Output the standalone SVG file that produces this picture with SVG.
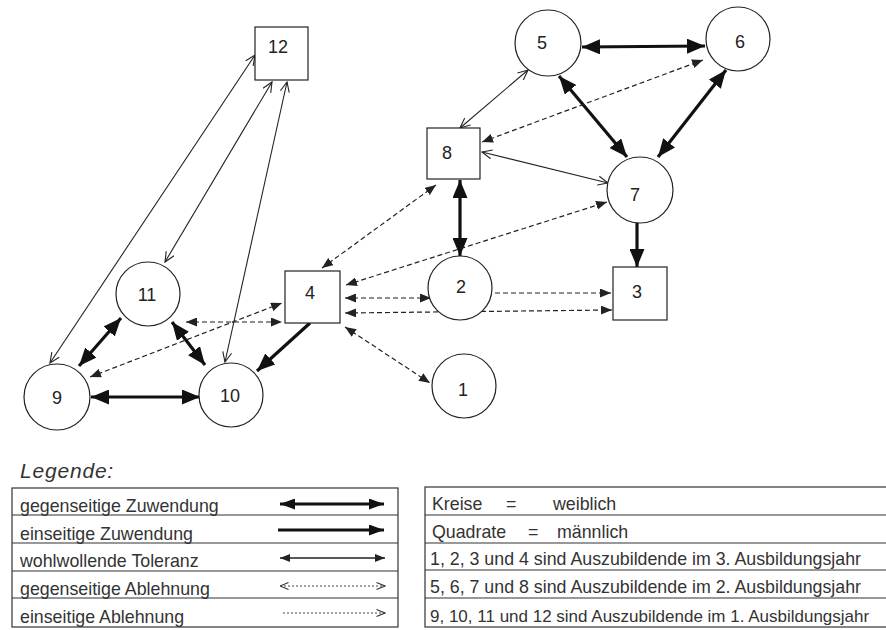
<svg xmlns="http://www.w3.org/2000/svg" width="886" height="630" viewBox="0 0 886 630">
<style>
  .node circle, .node rect { fill: #fff; stroke: #222; stroke-width: 1.2; }
  .lbl { font-family: "Liberation Sans", Arial, sans-serif; font-size: 18px; fill: #222; text-anchor: middle; dominant-baseline: central; }
  .thick { stroke: #111; stroke-width: 3.2; fill: none; }
  .thin { stroke: #222; stroke-width: 1.1; fill: none; }
  .dash { stroke: #222; stroke-width: 1.2; fill: none; stroke-dasharray: 5 3; }
  .ldot { stroke: #444; stroke-width: 1; fill: none; stroke-dasharray: 2 2; }
  .lthin { stroke: #222; stroke-width: 1.6; fill: none; }
  .txt { font-family: "Liberation Sans", Arial, sans-serif; font-size: 17.8px; fill: #333; }
  .title { font-family: "Liberation Sans", Arial, sans-serif; font-size: 21px; font-style: italic; letter-spacing: 0.8px; fill: #333; }
  .small { font-size: 17px; }
  .tbl { fill: none; stroke: #333; stroke-width: 1.2; }
</style>
<defs>
  <marker id="mThick" markerUnits="userSpaceOnUse" viewBox="0 0 18 15" refX="18" refY="7.5" markerWidth="18" markerHeight="15" orient="auto-start-reverse">
    <path d="M0,0 L18,7.5 L0,15 z" fill="#111"/>
  </marker>
  <marker id="mOpen" markerUnits="userSpaceOnUse" viewBox="0 0 12 10" refX="11" refY="5" markerWidth="12" markerHeight="10" orient="auto-start-reverse">
    <path d="M1,0.5 L11,5 L1,9.5" fill="none" stroke="#222" stroke-width="1.1"/>
  </marker>
  <marker id="mDash" markerUnits="userSpaceOnUse" viewBox="0 0 11 9" refX="11" refY="4.5" markerWidth="11" markerHeight="9" orient="auto-start-reverse">
    <path d="M0,0 L11,4.5 L0,9 z" fill="#222"/>
  </marker>
  <marker id="mLThick" markerUnits="userSpaceOnUse" viewBox="0 0 15 11" refX="15" refY="5.5" markerWidth="15" markerHeight="11" orient="auto-start-reverse">
    <path d="M0,0 L15,5.5 L0,11 z" fill="#111"/>
  </marker>
  <marker id="mLThin" markerUnits="userSpaceOnUse" viewBox="0 0 10 8" refX="10" refY="4" markerWidth="10" markerHeight="8" orient="auto-start-reverse">
    <path d="M0,0 L10,4 L0,8 z" fill="#222"/>
  </marker>
  <marker id="mLOpen" markerUnits="userSpaceOnUse" viewBox="0 0 10 8" refX="9.5" refY="4" markerWidth="10" markerHeight="8" orient="auto-start-reverse">
    <path d="M1,0.5 L9.5,4 L1,7.5" fill="none" stroke="#333" stroke-width="1.1"/>
  </marker>
</defs>
<rect width="886" height="630" fill="#fff"/>

<g id="connectors">
  <!-- thick mutual -->
  <line class="thick" x1="79" y1="366" x2="121" y2="318" marker-start="url(#mThick)" marker-end="url(#mThick)"/>
  <line class="thick" x1="172" y1="322" x2="205" y2="365" marker-start="url(#mThick)" marker-end="url(#mThick)"/>
  <line class="thick" x1="91" y1="397" x2="200" y2="397" marker-start="url(#mThick)" marker-end="url(#mThick)"/>
  <line class="thick" x1="460" y1="180" x2="460" y2="256" marker-start="url(#mThick)" marker-end="url(#mThick)"/>
  <line class="thick" x1="582" y1="47" x2="705" y2="46" marker-start="url(#mThick)" marker-end="url(#mThick)"/>
  <line class="thick" x1="559" y1="76" x2="627" y2="157" marker-start="url(#mThick)" marker-end="url(#mThick)"/>
  <line class="thick" x1="726" y1="70" x2="658" y2="157" marker-start="url(#mThick)" marker-end="url(#mThick)"/>
  <!-- thick one-way -->
  <line class="thick" x1="310" y1="323" x2="257" y2="371" marker-end="url(#mThick)"/>
  <line class="thick" x1="637" y1="222" x2="637" y2="267" marker-end="url(#mThick)"/>
  <!-- thin tolerance -->
  <line class="thin" x1="50" y1="363" x2="255" y2="55" marker-start="url(#mOpen)" marker-end="url(#mOpen)"/>
  <line class="thin" x1="165" y1="262" x2="272" y2="82" marker-start="url(#mOpen)" marker-end="url(#mOpen)"/>
  <line class="thin" x1="225" y1="362" x2="287" y2="82" marker-start="url(#mOpen)" marker-end="url(#mOpen)"/>
  <line class="thin" x1="460" y1="128" x2="528" y2="70" marker-start="url(#mOpen)" marker-end="url(#mOpen)"/>
  <line class="thin" x1="482" y1="152" x2="608" y2="183" marker-start="url(#mOpen)" marker-end="url(#mOpen)"/>
  <!-- dashed rejection -->
  <line class="dash" x1="186" y1="322" x2="282" y2="322" marker-start="url(#mDash)" marker-end="url(#mDash)"/>
  <line class="dash" x1="90" y1="377" x2="282" y2="303" marker-start="url(#mDash)" marker-end="url(#mDash)"/>
  <line class="dash" x1="322" y1="268" x2="436" y2="185" marker-start="url(#mDash)" marker-end="url(#mDash)"/>
  <line class="dash" x1="346" y1="285" x2="607" y2="202" marker-start="url(#mDash)" marker-end="url(#mDash)"/>
  <line class="dash" x1="345" y1="298" x2="431" y2="298" marker-start="url(#mDash)" marker-end="url(#mDash)"/>
  <line class="dash" x1="345" y1="313" x2="612" y2="310" marker-start="url(#mDash)" marker-end="url(#mDash)"/>
  <line class="dash" x1="495" y1="293" x2="611" y2="293" marker-end="url(#mDash)"/>
  <line class="dash" x1="345" y1="327" x2="430" y2="383" marker-start="url(#mDash)" marker-end="url(#mDash)"/>
  <line class="dash" x1="482" y1="142" x2="703" y2="60" marker-start="url(#mDash)" marker-end="url(#mDash)"/>
</g>

<g id="n12" class="node"><rect x="255" y="27" width="53" height="53"/><text class="lbl" x="278" y="47">12</text></g>
<g id="n11" class="node"><circle cx="148" cy="294" r="32"/><text class="lbl" x="147" y="295">11</text></g>
<g id="n9" class="node"><circle cx="57" cy="397" r="33"/><text class="lbl" x="57" y="398">9</text></g>
<g id="n10" class="node"><circle cx="231" cy="395" r="32"/><text class="lbl" x="230" y="396">10</text></g>
<g id="n4" class="node"><rect x="285" y="271" width="55" height="52"/><text class="lbl" x="310" y="293">4</text></g>
<g id="n8" class="node"><rect x="427" y="128" width="53" height="51"/><text class="lbl" x="447" y="153">8</text></g>
<g id="n5" class="node"><circle cx="548" cy="43" r="33"/><text class="lbl" x="542" y="43">5</text></g>
<g id="n6" class="node"><circle cx="738" cy="39" r="32"/><text class="lbl" x="740" y="42">6</text></g>
<g id="n7" class="node"><circle cx="640" cy="190" r="33"/><text class="lbl" x="635" y="195">7</text></g>
<g id="n2" class="node"><circle cx="460" cy="288" r="32"/><text class="lbl" x="461" y="287">2</text></g>
<g id="n3" class="node"><rect x="613" y="267" width="54" height="53"/><text class="lbl" x="637" y="292">3</text></g>
<g id="n1" class="node"><circle cx="464" cy="386" r="32"/><text class="lbl" x="463" y="390">1</text></g>

<g id="legend">
  <text class="title" x="20" y="478">Legende:</text>
  <rect class="tbl" x="12" y="488" width="386" height="139"/>
  <line class="tbl" x1="12" y1="515" x2="398" y2="515"/>
  <line class="tbl" x1="12" y1="543" x2="398" y2="543"/>
  <line class="tbl" x1="12" y1="571" x2="398" y2="571"/>
  <line class="tbl" x1="12" y1="598" x2="398" y2="598"/>
  <text class="txt" x="20" y="512">gegenseitige Zuwendung</text>
  <text class="txt" x="20" y="540">einseitige Zuwendung</text>
  <text class="txt" x="20" y="567">wohlwollende Toleranz</text>
  <text class="txt" x="20" y="595">gegenseitige Ablehnung</text>
  <text class="txt" x="20" y="623">einseitige Ablehnung</text>
  <line class="thick" x1="280" y1="504" x2="384" y2="504" marker-start="url(#mLThick)" marker-end="url(#mLThick)"/>
  <line class="thick" x1="278" y1="530" x2="384" y2="530" marker-end="url(#mLThick)"/>
  <line class="lthin" x1="280" y1="558" x2="385" y2="558" marker-start="url(#mLThin)" marker-end="url(#mLThin)"/>
  <line class="ldot" x1="280" y1="586" x2="385" y2="586" marker-start="url(#mLOpen)" marker-end="url(#mLOpen)"/>
  <line class="ldot" x1="283" y1="613" x2="385" y2="613" marker-end="url(#mLOpen)"/>

  <rect class="tbl" x="425" y="487" width="470" height="140"/>
  <line class="tbl" x1="425" y1="515" x2="886" y2="515"/>
  <line class="tbl" x1="425" y1="543" x2="886" y2="543"/>
  <line class="tbl" x1="425" y1="570" x2="886" y2="570"/>
  <line class="tbl" x1="425" y1="598" x2="886" y2="598"/>
  <text class="txt" x="432" y="510">Kreise</text>
  <text class="txt" x="506" y="510">=</text>
  <text class="txt" x="553" y="510">weiblich</text>
  <text class="txt" x="432" y="538">Quadrate</text>
  <text class="txt" x="528" y="538">=</text>
  <text class="txt" x="557" y="538">männlich</text>
  <text class="txt" x="430" y="565">1, 2, 3 und 4 sind Auszubildende im 3. Ausbildungsjahr</text>
  <text class="txt" x="430" y="593">5, 6, 7 und 8 sind Auszubildende im 2. Ausbildungsjahr</text>
  <text class="txt small" x="430" y="622">9, 10, 11 und 12 sind Auszubildende im 1. Ausbildungsjahr</text>
</g>
</svg>
